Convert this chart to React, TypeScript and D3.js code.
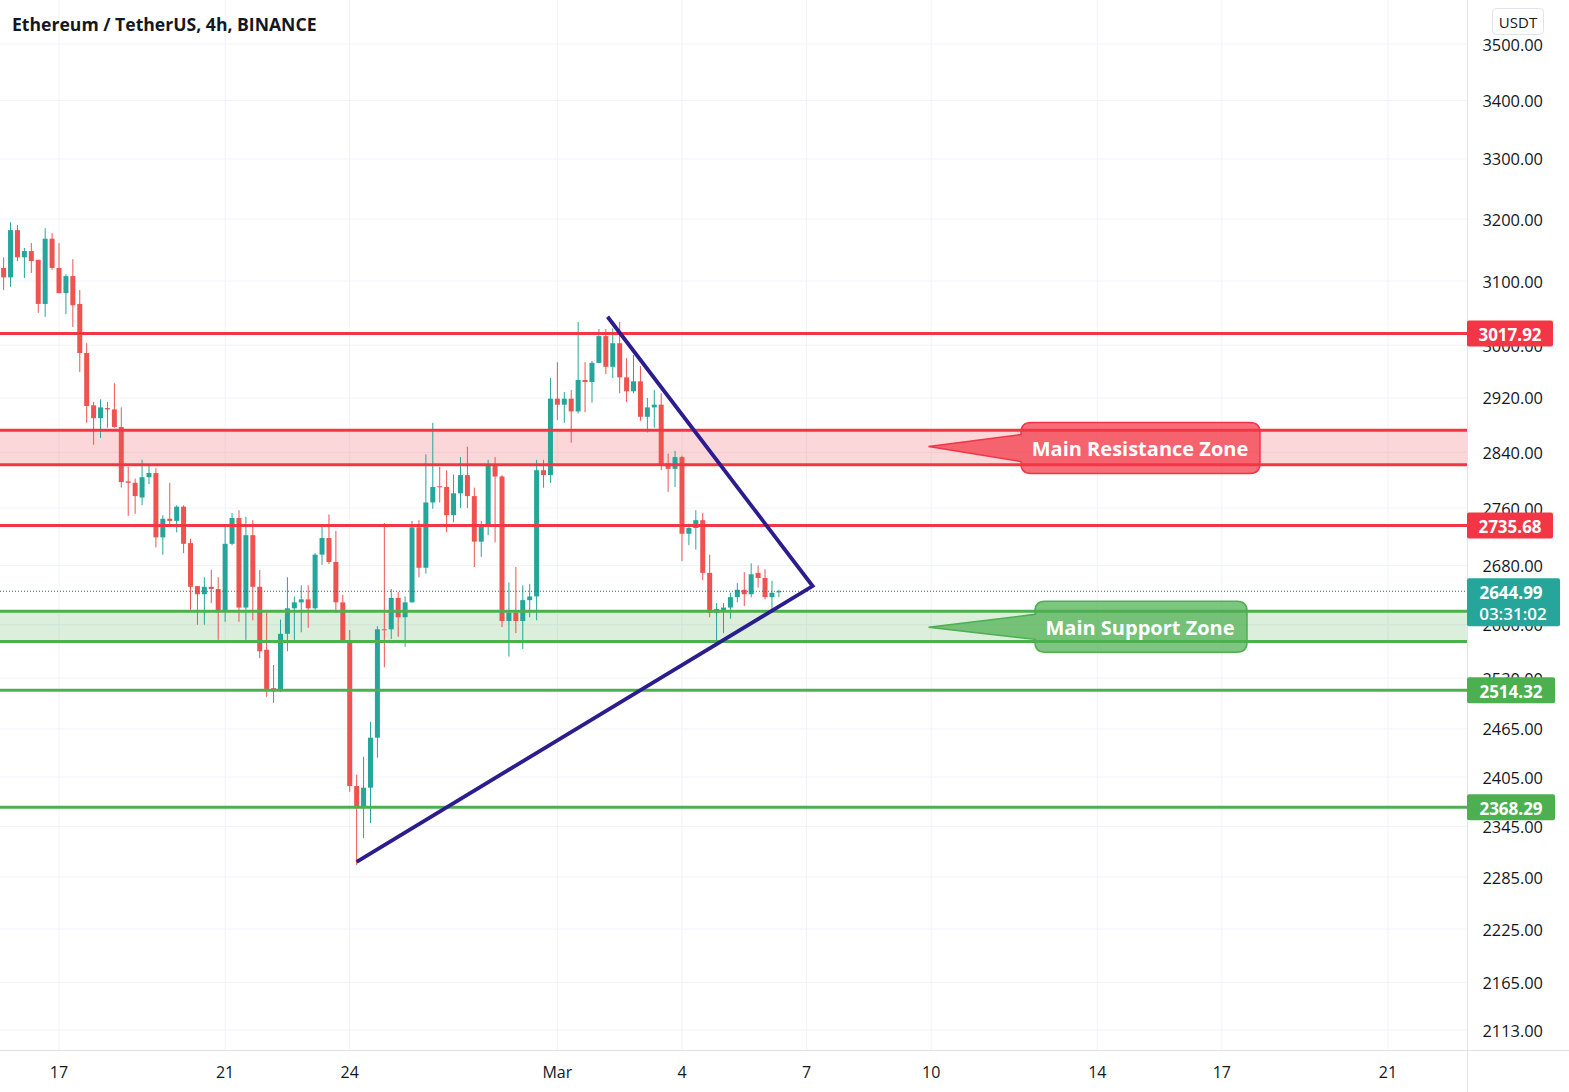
import React from 'react';
import * as d3 from 'd3';

const W = 1569;
const H = 1092;
const PLOT_RIGHT = 1467;
const AXIS_Y = 1050;

const title = 'Ethereum / TetherUS, 4h, BINANCE';
const currency = 'USDT';

// 4h candles starting Feb 15 2022 16:00 UTC
const startTime = Date.UTC(2022, 1, 15, 16);
const barMs = 4 * 3600 * 1000;

const opens = [
  3121, 3106, 3182, 3138, 3148, 3134, 3064, 3168, 3121, 3081,
  3108, 3064, 2988, 2909, 2890, 2905, 2903, 2877, 2798, 2796,
  2775, 2804, 2810, 2719, 2745, 2742, 2762, 2711, 2652, 2641,
  2651, 2648, 2617, 2710, 2746, 2623, 2722, 2651, 2567, 2517,
  2515, 2588, 2622, 2630, 2634, 2622, 2695, 2718, 2685, 2630,
  2577, 2394, 2367, 2392, 2454, 2594, 2594, 2636, 2610, 2630,
  2733, 2677, 2768, 2791, 2790, 2750, 2781, 2807, 2777, 2713,
  2735, 2822, 2805, 2605, 2616, 2605, 2633, 2638, 2814, 2807,
  2919, 2910, 2919, 2900, 2947, 2944, 2973, 3014, 2967, 3003,
  2951, 2930, 2945, 2892, 2906, 2910, 2824, 2816, 2833, 2724,
  2732, 2743, 2670, 2616, 2617, 2623, 2637, 2647, 2641, 2670,
  2663, 2637, 2643.5,
];
const closes = [
  3106, 3182, 3138, 3148, 3132, 3064, 3168, 3121, 3081, 3108,
  3062, 2988, 2908, 2890, 2906, 2903, 2877, 2797, 2796, 2777,
  2804, 2810, 2719, 2745, 2742, 2762, 2710, 2651, 2641, 2651,
  2648, 2617, 2710, 2746, 2623, 2722, 2651, 2565, 2516, 2513,
  2588, 2622, 2630, 2634, 2622, 2695, 2718, 2685, 2630, 2577,
  2394, 2367, 2392, 2454, 2594, 2593, 2636, 2610, 2630, 2733,
  2677, 2768, 2790, 2790, 2750, 2781, 2807, 2777, 2713, 2735,
  2822, 2805, 2605, 2616, 2605, 2633, 2638, 2814, 2807, 2919,
  2910, 2919, 2900, 2947, 2944, 2973, 3014, 2967, 3003, 2951,
  2930, 2945, 2892, 2906, 2910, 2822, 2816, 2833, 2724, 2732,
  2743, 2670, 2616, 2621, 2623, 2637, 2647, 2641, 2668, 2663,
  2637, 2643, 2644.99,
];
const highs = [
  3138, 3195, 3190, 3153, 3161, 3134, 3185, 3177, 3161, 3111,
  3135, 3086, 3003, 2914, 2918, 2914, 2942, 2906, 2819, 2802,
  2829, 2823, 2817, 2750, 2796, 2764, 2764, 2717, 2652, 2664,
  2674, 2664, 2736, 2753, 2757, 2748, 2743, 2674, 2616, 2547,
  2607, 2664, 2638, 2653, 2653, 2697, 2736, 2751, 2728, 2640,
  2593, 2408, 2430, 2474, 2598, 2739, 2648, 2644, 2638, 2742,
  2743, 2837, 2883, 2819, 2814, 2808, 2833, 2848, 2789, 2742,
  2829, 2833, 2807, 2657, 2678, 2653, 2655, 2829, 2829, 2950,
  2974, 2929, 2932, 3036, 2974, 2976, 3025, 3025, 3026, 3036,
  2980, 2985, 2968, 2920, 2932, 2927, 2838, 2842, 2835, 2738,
  2757, 2753, 2695, 2629, 2629, 2643, 2656, 2671, 2683, 2680,
  2675, 2659, 2647,
];
const lows = [
  3086, 3091, 3132, 3105, 3113, 3050, 3044, 3118, 3081, 3048,
  3028, 2959, 2883, 2851, 2861, 2876, 2876, 2789, 2749, 2752,
  2764, 2794, 2705, 2695, 2736, 2726, 2697, 2620, 2600, 2600,
  2629, 2580, 2604, 2708, 2604, 2580, 2606, 2556, 2506, 2498,
  2512, 2565, 2580, 2590, 2596, 2620, 2681, 2682, 2616, 2576,
  2387, 2299, 2331, 2349, 2429, 2544, 2581, 2584, 2571, 2630,
  2664, 2669, 2759, 2768, 2726, 2740, 2760, 2760, 2678, 2692,
  2722, 2712, 2597, 2558, 2589, 2568, 2610, 2606, 2789, 2796,
  2887, 2883, 2854, 2897, 2899, 2913, 2973, 2956, 2950, 2927,
  2914, 2927, 2886, 2869, 2876, 2814, 2783, 2790, 2686, 2708,
  2702, 2660, 2610, 2577, 2589, 2608, 2630, 2625, 2637, 2650,
  2634, 2617, 2637,
];

const yTicks = [3500, 3400, 3300, 3200, 3100, 3000, 2920, 2840, 2760, 2680, 2600, 2530, 2465, 2405, 2345, 2285, 2225, 2165, 2113];

const xTickTimes = [
  Date.UTC(2022, 1, 17), Date.UTC(2022, 1, 21), Date.UTC(2022, 1, 24), Date.UTC(2022, 2, 1),
  Date.UTC(2022, 2, 4), Date.UTC(2022, 2, 7), Date.UTC(2022, 2, 10), Date.UTC(2022, 2, 14),
  Date.UTC(2022, 2, 17), Date.UTC(2022, 2, 21),
];
const xTickLabels = ['17', '21', '24', 'Mar', '4', '7', '10', '14', '17', '21'];

const resistanceLevels = [3017.92, 2735.68];
const supportLevels = [2514.32, 2368.29];
const resistanceZone = [2822, 2872];
const supportZone = [2578, 2618];
const lastPrice = 2644.99;
const countdown = '03:31:02';

const triangleTimes = [Date.UTC(2022, 1, 24, 4), Date.UTC(2022, 2, 7, 3, 30), Date.UTC(2022, 2, 2, 5)];
const trianglePrices = [2303, 2652, 3044];

const calloutLabels = ['Main Resistance Zone', 'Main Support Zone'];
const calloutTipTime = Date.UTC(2022, 2, 9, 22, 30);

const RED = '#f23645';
const GREEN = '#4caf50';
const UP = '#26a69a';
const DOWN = '#ef5350';
const GRID = '#f0f3fa';
const TEXT = '#131722';
const FONT = '"Open Sans", "DejaVu Sans", sans-serif';

function calloutPath(tipX: number, tipY: number, x0: number, x1: number, y0: number, y1: number, b0: number, b1: number, r: number) {
  return [
    `M${tipX},${tipY}`,
    `L${x0},${b0}`,
    `L${x0},${y0 + r}`,
    `Q${x0},${y0} ${x0 + r},${y0}`,
    `L${x1 - r},${y0}`,
    `Q${x1},${y0} ${x1},${y0 + r}`,
    `L${x1},${y1 - r}`,
    `Q${x1},${y1} ${x1 - r},${y1}`,
    `L${x0 + r},${y1}`,
    `Q${x0},${y1} ${x0},${y1 - r}`,
    `L${x0},${b1}`,
    'Z',
  ].join(' ');
}

export default function App() {
  const x = d3.scaleUtc().domain([Date.UTC(2022, 1, 17), Date.UTC(2022, 2, 21)]).range([59, 1388]);
  const y = d3.scaleLog().domain([2113, 3500]).range([1030, 44]);

  const candles = opens.map((o, i) => ({
    t: startTime + i * barMs,
    o,
    h: highs[i],
    l: lows[i],
    c: closes[i],
  }));

  const bodyW = 5;
  const triLine = d3.line<number>()
    .x((_, i) => x(triangleTimes[i]))
    .y((_, i) => y(trianglePrices[i]));

  const tipX = x(calloutTipTime);
  const rMid = y(Math.sqrt(resistanceZone[0] * resistanceZone[1]));
  const sMid = y(Math.sqrt(supportZone[0] * supportZone[1]));

  const levelBoxes = [
    ...resistanceLevels.map((v) => ({ v, color: RED, w: 86 })),
    ...supportLevels.map((v) => ({ v, color: GREEN, w: 88 })),
  ];

  return (
    <svg width={W} height={H} style={{ position: 'absolute', left: 0, top: 0, display: 'block', background: '#fff' }}>
      <rect x={0} y={0} width={W} height={H} fill="#ffffff" />
      {/* grid */}
      {yTicks.map((t) => (
        <line key={'gy' + t} x1={0} x2={PLOT_RIGHT} y1={y(t)} y2={y(t)} stroke={GRID} strokeWidth={1} />
      ))}
      {xTickTimes.map((t, i) => (
        <line key={'gx' + i} x1={x(t)} x2={x(t)} y1={0} y2={AXIS_Y} stroke={GRID} strokeWidth={1} />
      ))}

      {/* zones fill */}
      <rect x={0} width={PLOT_RIGHT} y={y(resistanceZone[1])} height={y(resistanceZone[0]) - y(resistanceZone[1])} fill="rgba(242,54,69,0.2)" />
      <rect x={0} width={PLOT_RIGHT} y={y(supportZone[1])} height={y(supportZone[0]) - y(supportZone[1])} fill="rgba(76,175,80,0.2)" />

      {/* candles */}
      {candles.map((d, i) => {
        const cx = x(d.t);
        const col = d.c >= d.o ? UP : DOWN;
        const top = y(Math.max(d.o, d.c));
        const bot = y(Math.min(d.o, d.c));
        return (
          <g key={'c' + i}>
            <line x1={cx} x2={cx} y1={y(d.h)} y2={y(d.l)} stroke={col} strokeWidth={1} />
            <rect x={cx - bodyW / 2} width={bodyW} y={top} height={Math.max(1, bot - top)} fill={col} />
          </g>
        );
      })}

      {/* zone boundaries */}
      {resistanceZone.map((v) => (
        <line key={'rz' + v} x1={0} x2={PLOT_RIGHT} y1={y(v)} y2={y(v)} stroke={RED} strokeWidth={3} />
      ))}
      {supportZone.map((v) => (
        <line key={'sz' + v} x1={0} x2={PLOT_RIGHT} y1={y(v)} y2={y(v)} stroke={GREEN} strokeWidth={3} />
      ))}
      {resistanceLevels.map((v) => (
        <line key={'rl' + v} x1={0} x2={PLOT_RIGHT} y1={y(v)} y2={y(v)} stroke={RED} strokeWidth={3} />
      ))}
      {supportLevels.map((v) => (
        <line key={'sl' + v} x1={0} x2={PLOT_RIGHT} y1={y(v)} y2={y(v)} stroke={GREEN} strokeWidth={3} />
      ))}

      {/* last price line */}
      <line x1={0} x2={PLOT_RIGHT} y1={y(lastPrice)} y2={y(lastPrice)} stroke="#3f5f63" strokeWidth={1} strokeDasharray="1,2" />

      {/* triangle */}
      <path d={triLine([0, 1, 2]) || ''} fill="none" stroke="#2b1d8e" strokeWidth={3.8} strokeLinejoin="miter" />

      {/* callouts */}
      <path d={calloutPath(tipX, rMid - 1, 1021, 1260, rMid - 25, rMid + 26, rMid - 13, rMid + 14, 10)} fill="rgba(242,54,69,0.72)" stroke={RED} strokeWidth={1.5} />
      <text x={1140} y={rMid + 1} fill="#fff" fontFamily={FONT} fontWeight={700} fontSize={20} textAnchor="middle" dominantBaseline="central">{calloutLabels[0]}</text>
      <path d={calloutPath(tipX, sMid + 1, 1035, 1247, sMid - 25, sMid + 26, sMid - 12, sMid + 13, 10)} fill="rgba(76,175,80,0.72)" stroke={GREEN} strokeWidth={1.5} />
      <text x={1140} y={sMid + 1} fill="#fff" fontFamily={FONT} fontWeight={700} fontSize={20} textAnchor="middle" dominantBaseline="central">{calloutLabels[1]}</text>

      {/* axes borders */}
      <rect x={PLOT_RIGHT} y={0} width={W - PLOT_RIGHT} height={H} fill="#fff" />
      <rect x={0} y={AXIS_Y} width={W} height={H - AXIS_Y} fill="#fff" />
      <line x1={PLOT_RIGHT + 0.5} x2={PLOT_RIGHT + 0.5} y1={0} y2={H} stroke="#e0e3eb" strokeWidth={1} />
      <line x1={0} x2={W} y1={AXIS_Y + 0.5} y2={AXIS_Y + 0.5} stroke="#e0e3eb" strokeWidth={1} />

      {/* y tick labels */}
      {yTicks.map((t) => (
        <text key={'yl' + t} x={1543} y={y(t)} fill={TEXT} fontFamily={FONT} fontSize={16.4} textAnchor="end" dominantBaseline="central">
          {t.toFixed(2)}
        </text>
      ))}

      {/* level labels */}
      {levelBoxes.map((b) => (
        <g key={'lb' + b.v}>
          <rect x={PLOT_RIGHT} y={y(b.v) - 13} width={b.w} height={26} rx={2} fill={b.color} />
          <text x={PLOT_RIGHT + b.w / 2} y={y(b.v) + 1} fill="#fff" fontFamily={FONT} fontWeight={700} fontSize={17} textAnchor="middle" dominantBaseline="central">
            {b.v.toFixed(2)}
          </text>
        </g>
      ))}
      <g>
        <rect x={PLOT_RIGHT} y={y(lastPrice) - 13} width={93} height={48} rx={2} fill={UP} />
        <text x={PLOT_RIGHT + 44} y={y(lastPrice) + 1} fill="#fff" fontFamily={FONT} fontWeight={700} fontSize={17} textAnchor="middle" dominantBaseline="central">
          {lastPrice.toFixed(2)}
        </text>
        <text x={PLOT_RIGHT + 46} y={y(lastPrice) + 22} fill="#fff" fontFamily={FONT} fontWeight={600} fontSize={17} textAnchor="middle" dominantBaseline="central">
          {countdown}
        </text>
      </g>

      {/* currency box */}
      <rect x={1492.5} y={8.5} width={51} height={26} rx={4} fill="#fff" stroke="#e0e3eb" />
      <text x={1518} y={22} fill={TEXT} fontFamily={FONT} fontSize={15} textAnchor="middle" dominantBaseline="central">{currency}</text>

      {/* x tick labels */}
      {xTickTimes.map((t, i) => (
        <text key={'xl' + i} x={x(t)} y={1072} fill={TEXT} fontFamily={FONT} fontSize={16} textAnchor="middle" dominantBaseline="central">
          {xTickLabels[i]}
        </text>
      ))}

      {/* title */}
      <text x={12} y={24} fill={TEXT} fontFamily={FONT} fontWeight={700} fontSize={17.6} dominantBaseline="central">{title}</text>
    </svg>
  );
}
